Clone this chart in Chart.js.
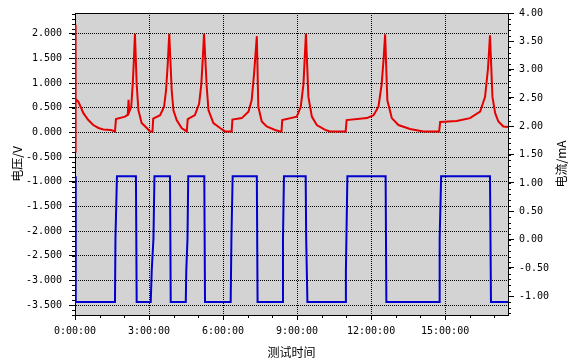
<!DOCTYPE html>
<html>
<head>
<meta charset="utf-8">
<script src="https://cdn.jsdelivr.net/npm/chart.js@4"></script>
<style>
  html, body { margin: 0; padding: 0; background: #fff; }
</style>
</head>
<body>
<canvas id="chart" width="574" height="363"></canvas>
<script>
// time in hours, voltage in V
const voltageTime = [0, 0.01, 0.04, 0.14, 0.34, 0.54, 0.74, 0.95, 1.15, 1.45, 1.62,
  1.66, 2.03, 2.14, 2.17, 2.20, 2.28, 2.34, 2.39, 2.43, 2.50, 2.57, 2.70, 2.91, 3.04, 3.14,
  3.17, 3.45, 3.61, 3.69, 3.76, 3.82, 3.92, 3.99, 4.12, 4.32, 4.53,
  4.57, 4.86, 5.03, 5.12, 5.18, 5.23, 5.34, 5.41, 5.61, 5.88, 6.08, 6.35,
  6.38, 6.76, 7.03, 7.16, 7.26, 7.37, 7.43, 7.57, 7.77, 8.11, 8.31, 8.37,
  8.40, 8.99, 9.15, 9.26, 9.31, 9.36, 9.46, 9.60, 9.80, 10.14, 10.34, 10.97,
  11.01, 11.83, 12.10, 12.30, 12.43, 12.51, 12.57, 12.66, 12.84, 13.11, 13.58, 14.12, 14.76,
  14.80, 15.47, 16.01, 16.42, 16.62, 16.74, 16.82, 16.92, 17.03, 17.16, 17.36, 17.55];
const voltageValues = [2.18, -0.41, 0.68, 0.62, 0.39, 0.25, 0.15, 0.09, 0.06, 0.05, 0.02,
  0.27, 0.32, 0.36, 0.66, 0.42, 0.52, 0.98, 1.50, 2.00, 0.98, 0.45, 0.19, 0.09, 0.02, 0.02,
  0.28, 0.35, 0.52, 0.85, 1.40, 2.00, 0.85, 0.45, 0.25, 0.09, 0.02,
  0.27, 0.35, 0.58, 0.98, 1.50, 2.00, 0.92, 0.45, 0.19, 0.09, 0.02, 0.02,
  0.26, 0.29, 0.42, 0.65, 1.20, 1.95, 0.52, 0.22, 0.12, 0.05, 0.02, 0.02,
  0.25, 0.32, 0.52, 0.98, 1.50, 2.00, 0.72, 0.32, 0.15, 0.05, 0.02, 0.02,
  0.25, 0.29, 0.35, 0.52, 0.98, 1.50, 1.99, 0.65, 0.29, 0.15, 0.07, 0.02, 0.02,
  0.21, 0.23, 0.29, 0.42, 0.72, 1.30, 1.97, 0.72, 0.39, 0.22, 0.12, 0.11];

// time in hours, current in mA
const currentTime = [0, 0.03, 1.62, 1.64, 1.70, 2.47, 2.50, 3.07, 3.11, 3.18, 3.22, 3.85, 3.88,
  4.49, 4.51, 4.56, 4.59, 5.24, 5.27, 6.31, 6.34, 6.39, 7.37, 7.40, 8.41, 8.43, 8.47,
  9.35, 9.37, 9.42, 10.97, 10.98, 11.04, 12.59, 12.62, 14.76, 14.78, 14.84, 16.82, 16.86, 17.55];
const currentValues = [1.12, -1.10, -1.10, 0.02, 1.12, 1.12, -1.10, -1.10, -0.55, 0.02, 1.12, 1.12, -1.10,
  -1.10, -0.55, 0.02, 1.12, 1.12, -1.10, -1.10, 0.02, 1.12, 1.12, -1.10, -1.10, 0.02, 1.12,
  1.12, 0.02, -1.10, -1.10, -0.55, 1.12, 1.12, -1.10, -1.10, 0.02, 1.12, 1.12, -1.10, -1.10];

const timeTicks = [0, 3, 6, 9, 12, 15];
const voltageTicks = [-3.5, -3, -2.5, -2, -1.5, -1, -0.5, 0, 0.5, 1, 1.5, 2];
const currentTicks = [-1, -0.5, 0, 0.5, 1, 1.5, 2, 2.5, 3, 3.5, 4];

const tickFont = { family: "'DejaVu Sans Mono'", size: 10 };
const titleFont = { family: "'Noto Sans CJK SC'", size: 12 };

function toPoints(xs, ys) {
  return xs.map((x, i) => ({ x: x, y: ys[i] }));
}

function minorTicks(ctx, scale, from, to, step, len, side) {
  for (let v = from; v <= to + 1e-9; v += step) {
    const p = Math.round(scale.getPixelForValue(v)) + 0.5;
    ctx.beginPath();
    if (side === 'bottom') { ctx.moveTo(p, scale.top); ctx.lineTo(p, scale.top + len); }
    if (side === 'left') { ctx.moveTo(scale.right, p); ctx.lineTo(scale.right - len, p); }
    if (side === 'right') { ctx.moveTo(scale.left, p); ctx.lineTo(scale.left + len, p); }
    ctx.stroke();
  }
}

const framePlugin = {
  id: 'frame',
  beforeDraw(chart) {
    const { ctx, chartArea: a } = chart;
    ctx.save();
    ctx.fillStyle = '#d3d3d3';
    ctx.fillRect(a.left, a.top, a.right - a.left, a.bottom - a.top);
    ctx.restore();
  },
  afterDraw(chart) {
    const { ctx, chartArea: a, scales } = chart;
    ctx.save();
    ctx.strokeStyle = '#000';
    ctx.lineWidth = 1;
    ctx.beginPath();
    ctx.moveTo(a.left, a.top + 0.5);
    ctx.lineTo(a.right, a.top + 0.5);
    ctx.stroke();
    minorTicks(ctx, scales.x, 0, 17.5, 1, 3, 'bottom');
    minorTicks(ctx, scales.y, -3.7, 2.4, 0.1, 3, 'left');
    minorTicks(ctx, scales.y1, -1.3, 4, 0.1, 3, 'right');
    // right axis title, read bottom to top
    ctx.fillStyle = '#000';
    ctx.font = "12px 'Noto Sans CJK SC'";
    ctx.textAlign = 'center';
    ctx.textBaseline = 'middle';
    ctx.translate(561, (a.top + a.bottom) / 2);
    ctx.rotate(-Math.PI / 2);
    ctx.fillText('电流/mA', 0, 0);
    ctx.restore();
  }
};

new Chart(document.getElementById('chart'), {
  type: 'line',
  data: {
    datasets: [
      {
        label: '电压',
        data: toPoints(voltageTime, voltageValues),
        yAxisID: 'y',
        borderColor: '#e60000',
        borderWidth: 2,
        pointRadius: 0,
        tension: 0
      },
      {
        label: '电流',
        data: toPoints(currentTime, currentValues),
        yAxisID: 'y1',
        borderColor: '#0000d0',
        borderWidth: 2,
        pointRadius: 0,
        tension: 0
      }
    ]
  },
  options: {
    responsive: false,
    animation: false,
    layout: { padding: { top: 8, left: 0, right: 0, bottom: 0 } },
    plugins: { legend: { display: false }, tooltip: { enabled: false } },
    scales: {
      x: {
        type: 'linear',
        min: 0,
        max: 17.55,
        afterBuildTicks: (s) => { s.ticks = timeTicks.map((v) => ({ value: v })); },
        afterFit: (s) => { s.height = 48; },
        ticks: {
          autoSkip: false, maxRotation: 0, padding: 5, color: '#000', font: tickFont,
          callback: (v) => v + ':00:00'
        },
        grid: { color: '#000', lineWidth: 1, tickLength: 5, tickColor: '#000' },
        border: { color: '#000', dash: [1, 1] },
        title: { display: true, text: '测试时间', color: '#000', font: titleFont, padding: { top: 0, bottom: 3 } }
      },
      y: {
        position: 'left',
        min: -3.7,
        max: 2.42,
        afterBuildTicks: (s) => { s.ticks = voltageTicks.map((v) => ({ value: v })); },
        afterFit: (s) => { s.width = 75; },
        ticks: { padding: 7, color: '#000', font: tickFont, callback: (v) => v.toFixed(3) },
        grid: { color: '#000', lineWidth: 1, tickLength: 6, tickColor: '#000' },
        border: { color: '#000', dash: [1, 1] },
        title: { display: true, text: '电压/V', color: '#000', font: titleFont, padding: { top: 10, bottom: 0 } }
      },
      y1: {
        position: 'right',
        min: -1.33,
        max: 4,
        afterBuildTicks: (s) => { s.ticks = currentTicks.map((v) => ({ value: v })); },
        afterFit: (s) => { s.width = 66; },
        ticks: { padding: 5, color: '#000', font: tickFont, callback: (v) => v.toFixed(2) },
        grid: { drawOnChartArea: false, tickLength: 6, tickColor: '#000' },
        border: { color: '#000' }
      }
    }
  },
  plugins: [framePlugin]
});
</script>
</body>
</html>
